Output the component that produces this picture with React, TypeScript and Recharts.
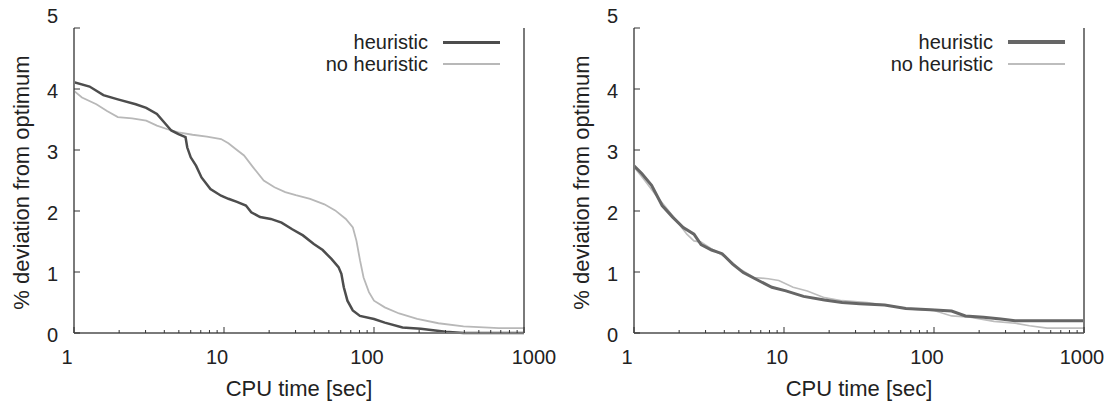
import { LineChart, Line, XAxis, YAxis, Legend, Label } from 'recharts';

// x axis (log) ticks
const xMajor = [1, 10, 100, 1000];
const xMinor = [2, 3, 4, 5, 6, 7, 8, 9, 20, 30, 40, 50, 60, 70, 80, 90, 200, 300, 400, 500, 600, 700, 800, 900];
const yTicks = [0, 1, 2, 3, 4, 5];
const seriesNames = ['heuristic', 'no heuristic'];

// left panel
const leftHeurT = [1, 1.27, 1.57, 1.96, 2.58, 3.03, 3.57, 4.0, 4.45, 4.97, 5.54, 5.69, 6.0, 6.52, 7.08, 8.12, 9.56, 10.7, 12.2, 14.0, 15.2, 17.4, 20.5, 24.2, 28.5, 33.6, 39.7, 45.5, 52.2, 58.0, 60.6, 62.9, 66.5, 72.2, 80.6, 100, 118, 155, 205, 300, 395, 1000];
const leftHeurV = [4.11, 4.04, 3.9, 3.83, 3.75, 3.69, 3.59, 3.45, 3.32, 3.26, 3.21, 3.04, 2.88, 2.74, 2.55, 2.36, 2.25, 2.2, 2.15, 2.09, 1.98, 1.9, 1.87, 1.81, 1.7, 1.6, 1.46, 1.36, 1.21, 1.08, 0.97, 0.75, 0.53, 0.37, 0.28, 0.23, 0.17, 0.09, 0.07, 0.02, 0.0, 0.0];
const leftNoHeurT = [1, 1.13, 1.41, 1.66, 1.96, 2.44, 3.03, 3.57, 4.2, 4.97, 6.17, 7.69, 9.56, 10.7, 11.9, 13.6, 15.6, 18.4, 21.7, 25.6, 30.1, 37.5, 46.7, 55.1, 64.9, 72.3, 76.4, 80.7, 85.2, 92.5, 100, 118, 147, 194, 269, 395, 680, 1000];
const leftNoHeurV = [3.97, 3.86, 3.75, 3.64, 3.54, 3.52, 3.48, 3.4, 3.34, 3.29, 3.25, 3.22, 3.18, 3.11, 3.02, 2.91, 2.72, 2.5, 2.39, 2.31, 2.26, 2.2, 2.11, 2.01, 1.87, 1.73, 1.51, 1.19, 0.91, 0.67, 0.53, 0.42, 0.32, 0.23, 0.16, 0.11, 0.08, 0.08];

// right panel
const rightHeurT = [1, 1.13, 1.31, 1.54, 1.81, 2.13, 2.51, 2.8, 3.29, 3.87, 4.55, 5.35, 6.76, 8.3, 10.3, 13.5, 18.6, 24.4, 32.0, 46.9, 64.9, 94.8, 131, 162, 214, 279, 347, 1000];
const rightHeurV = [2.74, 2.61, 2.42, 2.09, 1.9, 1.73, 1.62, 1.45, 1.36, 1.3, 1.13, 0.99, 0.86, 0.75, 0.69, 0.6, 0.54, 0.5, 0.48, 0.46, 0.4, 0.38, 0.36, 0.28, 0.26, 0.23, 0.2, 0.2];
const rightNoHeurT = [1, 1.18, 1.38, 1.63, 1.92, 2.25, 2.51, 2.8, 3.29, 4.09, 5.08, 6.31, 7.85, 9.23, 11.5, 14.3, 18.6, 24.4, 35.8, 49.5, 72.3, 100, 131, 174, 251, 347, 433, 568, 1000];
const rightNoHeurV = [2.72, 2.5, 2.28, 2.06, 1.84, 1.62, 1.51, 1.49, 1.38, 1.24, 1.05, 0.91, 0.89, 0.86, 0.75, 0.69, 0.58, 0.53, 0.5, 0.45, 0.39, 0.37, 0.28, 0.26, 0.19, 0.16, 0.12, 0.08, 0.08];

const zip = (t: number[], v: number[]) => t.map((x, i) => ({ t: x, v: v[i] }));

const FONT = '"Liberation Sans", Arial, sans-serif';
const FRAME = '#7a7a7a';
const allXTicks = [...xMajor, ...xMinor].sort((a, b) => a - b);

const BottomTick = ({ x, y, payload, lastDx = 0 }: any) => {
  const major = xMajor.includes(payload.value);
  const last = payload.value === xMajor[xMajor.length - 1];
  return (
    <g>
      <line x1={x} x2={x} y1={y} y2={y - (major ? 6 : 3)} stroke="#333" strokeWidth={1} />
      {major && (
        <text x={x + (last ? lastDx : -7)} y={y + 31} textAnchor="middle" fontSize={20} fill="#222" fontFamily={FONT}>
          {payload.value}
        </text>
      )}
    </g>
  );
};

const TopTick = ({ x, y, payload }: any) => {
  const major = xMajor.includes(payload.value);
  return <line x1={x} x2={x} y1={y} y2={y + (major ? 6 : 3)} stroke="#333" strokeWidth={1} />;
};

const LeftTick = ({ x, y, payload }: any) => (
  <g>
    <line x1={x} x2={x + 6} y1={y} y2={y} stroke="#333" strokeWidth={1} />
    <text x={x - 16} y={y + 7 + (payload.value === 5 ? -12 : 2)} textAnchor="end" fontSize={20} fill="#222" fontFamily={FONT}>
      {payload.value}
    </text>
  </g>
);

const RightTick = ({ x, y }: any) => <line x1={x} x2={x - 6} y1={y} y2={y} stroke="#333" strokeWidth={1} />;

type Style = { stroke: string; width: number; legendWidth: number };

const Panel = ({ heur, noHeur, styles, legendPad, width, rightW, lastDx }: { heur: any[]; noHeur: any[]; styles: Style[]; legendPad: number; width: number; rightW: number; lastDx: number }) => {
  const plotRight = width - rightW;
  return (
    <LineChart width={width} height={403} margin={{ top: 28, right: 0, bottom: 0, left: 0 }}>
      <XAxis
        dataKey="t"
        type="number"
        scale="log"
        domain={[1, 1000]}
        allowDataOverflow
        ticks={allXTicks}
        interval={0}
        height={70}
        tickSize={0}
        tickMargin={0}
        tickLine={false}
        axisLine={{ stroke: FRAME, strokeWidth: 2 }}
        tick={<BottomTick lastDx={lastDx} />}
      >
        <Label value="CPU time [sec]" position="insideBottom" offset={7} fontSize={22} fill="#222" fontFamily={FONT} />
      </XAxis>
      <XAxis
        xAxisId="top"
        orientation="top"
        dataKey="t"
        type="number"
        scale="log"
        domain={[1, 1000]}
        allowDataOverflow
        ticks={allXTicks}
        interval={0}
        height={0}
        tickSize={0}
        tickMargin={0}
        tickLine={false}
        axisLine={{ stroke: FRAME, strokeWidth: 2 }}
        tick={<TopTick />}
      />
      <YAxis
        type="number"
        domain={[0, 5]}
        ticks={yTicks}
        interval={0}
        width={74}
        tickSize={0}
        tickMargin={0}
        tickLine={false}
        axisLine={{ stroke: FRAME, strokeWidth: 2 }}
        tick={<LeftTick />}
      >
        <Label
          content={(props: any) => {
            const vb = props.viewBox || { x: 0, y: 28, width: 74, height: 305 };
            const cx = vb.x + 29;
            const cy = vb.y + vb.height / 2 + 2;
            return (
              <text x={cx} y={cy} transform={`rotate(-90, ${cx}, ${cy})`} textAnchor="middle" fontSize={22} fill="#222" fontFamily={FONT}>
                % deviation  from optimum
              </text>
            );
          }}
        />
      </YAxis>
      <YAxis
        yAxisId="right"
        orientation="right"
        type="number"
        domain={[0, 5]}
        ticks={yTicks}
        interval={0}
        width={rightW}
        tickSize={0}
        tickMargin={0}
        tickLine={false}
        axisLine={{ stroke: FRAME, strokeWidth: 2 }}
        tick={<RightTick />}
      />
      <Legend
        layout="horizontal"
        verticalAlign="middle"
        align="center"
        wrapperStyle={{ position: 'absolute', top: 31, left: plotRight - 300, width: 300 }}
        content={() => (
          <div style={{ fontFamily: FONT, fontSize: 20, color: '#222' }}>
            {seriesNames.map((name, i) => (
              <div key={name} style={{ display: 'flex', justifyContent: 'flex-end', alignItems: 'center', height: 22, paddingRight: legendPad }}>
                <span style={{ lineHeight: '22px' }}>{name}</span>
                <div style={{ width: 57, marginLeft: 15, height: styles[i].legendWidth, background: styles[i].stroke }} />
              </div>
            ))}
          </div>
        )}
      />
      <Line data={noHeur} dataKey="v" name={seriesNames[1]} type="linear" dot={false} stroke={styles[1].stroke} strokeWidth={styles[1].width} isAnimationActive={false} />
      <Line data={heur} dataKey="v" name={seriesNames[0]} type="linear" dot={false} stroke={styles[0].stroke} strokeWidth={styles[0].width} isAnimationActive={false} />
    </LineChart>
  );
};

export default function App() {
  const leftStyles: Style[] = [
    { stroke: '#4d4d4d', width: 2.5, legendWidth: 3 },
    { stroke: '#b8b8b8', width: 1.8, legendWidth: 2 },
  ];
  const rightStyles: Style[] = [
    { stroke: '#666666', width: 3, legendWidth: 4 },
    { stroke: '#bdbdbd', width: 1.6, legendWidth: 2 },
  ];
  return (
    <div style={{ position: 'absolute', left: 0, top: 0, width: 1113, height: 403, background: '#fff' }}>
      <div style={{ position: 'absolute', left: 0, top: 0 }}>
        <Panel heur={zip(leftHeurT, leftHeurV)} noHeur={zip(leftNoHeurT, leftNoHeurV)} styles={leftStyles} legendPad={24} width={560} rightW={36} lastDx={10} />
      </div>
      <div style={{ position: 'absolute', left: 560, top: 0 }}>
        <Panel heur={zip(rightHeurT, rightHeurV)} noHeur={zip(rightNoHeurT, rightNoHeurV)} styles={rightStyles} legendPad={19} width={553} rightW={29} lastDx={-2} />
      </div>
    </div>
  );
}
